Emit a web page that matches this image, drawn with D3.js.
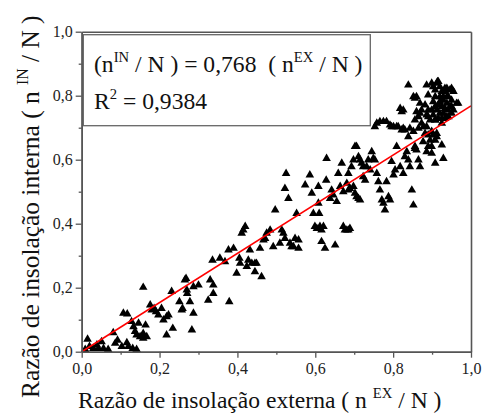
<!DOCTYPE html>
<html>
<head>
<meta charset="utf-8">
<script src="https://cdn.jsdelivr.net/npm/d3@7"></script>
</head>
<body style="margin:0;background:#fff">
<div id="chart"></div>
<script>
// measured points (external ratio, internal ratio)
const ratioExt = [
  0.015,0.020,0.030,0.043,0.051,0.056,0.068,0.081,0.086,0.092,0.103,0.116,0.120,0.131,0.141,0.009,0.039,
  0.107,0.117,0.128,0.133,0.137,0.141,0.146,0.150,0.158,0.164,0.167,0.158,0.158,0.176,0.180,0.186,0.191,
  0.197,0.205,0.210,0.218,0.223,0.231,0.234,0.218,0.251,0.257,0.259,0.265,0.268,0.270,0.271,0.278,0.283,
  0.287,0.287,0.300,0.325,0.330,0.338,0.338,0.336,0.355,0.368,0.377,0.379,0.390,0.398,0.405,0.407,0.411,
  0.415,0.420,0.424,0.428,0.432,0.437,0.445,0.449,0.445,0.462,0.458,0.467,0.471,0.475,0.484,0.492,0.497,
  0.509,0.514,0.518,0.522,0.525,0.522,0.531,0.535,0.539,0.544,0.548,0.552,0.557,0.557,0.574,0.586,0.591,
  0.595,0.599,0.604,0.608,0.610,0.612,0.616,0.616,0.621,0.625,0.608,0.628,0.629,0.638,0.642,0.646,0.651,
  0.655,0.659,0.664,0.668,0.672,0.681,0.685,0.689,0.693,0.672,0.676,0.681,0.685,0.689,0.685,0.698,0.702,
  0.706,0.711,0.715,0.698,0.702,0.706,0.711,0.715,0.719,0.723,0.723,0.728,0.732,0.736,0.741,0.745,0.749,
  0.753,0.758,0.762,0.766,0.771,0.775,0.779,0.783,0.788,0.792,0.796,0.801,0.805,0.796,0.753,0.758,0.766,
  0.775,0.783,0.792,0.801,0.813,0.822,0.830,0.809,0.818,0.826,0.830,0.835,0.839,0.843,0.848,0.852,0.843,
  0.852,0.856,0.860,0.865,0.869,0.818,0.826,0.839,0.852,0.856,0.860,0.865,0.869,0.873,0.873,0.878,0.882,
  0.886,0.886,0.890,0.895,0.899,0.903,0.908,0.912,0.916,0.920,0.925,0.929,0.933,0.938,0.942,0.946,0.950,
  0.903,0.908,0.912,0.916,0.920,0.925,0.929,0.933,0.938,0.942,0.946,0.950,0.955,0.903,0.908,0.916,0.925,
  0.933,0.942,0.899,0.903,0.912,0.925,0.929,0.908,0.908,0.895,0.890,0.886,0.967,0.950,0.920,0.929,0.938,
  0.886,0.899,0.914,0.933,0.955,0.963,0.950,0.925,0.908,0.890,0.882,0.899,0.920,0.938,0.908,0.890,0.925,
  0.869,0.860,0.822,0.856,0.865,0.890,0.912,0.899,0.877,0.856,0.839,0.826,0.809
];
const ratioInt = [
  0.039,0.016,0.010,0.010,0.031,0.010,0.007,0.059,0.026,0.036,0.016,0.028,0.016,0.010,0.007,0.007,0.021,
  0.120,0.118,0.094,0.078,0.063,0.052,0.089,0.047,0.042,0.083,0.047,0.057,0.201,0.146,0.130,0.135,0.125,
  0.115,0.135,0.099,0.109,0.115,0.188,0.073,0.052,0.156,0.130,0.135,0.224,0.229,0.193,0.182,0.156,0.068,
  0.120,0.203,0.208,0.161,0.224,0.208,0.182,0.286,0.292,0.281,0.318,0.156,0.323,0.245,0.292,0.276,0.370,
  0.380,0.391,0.266,0.286,0.318,0.276,0.276,0.276,0.250,0.234,0.323,0.349,0.354,0.370,0.380,0.328,0.443,
  0.339,0.380,0.370,0.354,0.557,0.510,0.479,0.339,0.328,0.328,0.354,0.432,0.323,0.349,0.521,0.552,0.495,
  0.432,0.391,0.385,0.464,0.432,0.391,0.380,0.344,0.391,0.323,0.516,0.536,0.604,0.479,0.505,0.490,0.333,
  0.469,0.557,0.516,0.589,0.500,0.526,0.557,0.510,0.578,0.391,0.380,0.380,0.380,0.385,0.505,0.516,0.495,
  0.484,0.479,0.474,0.599,0.641,0.641,0.609,0.599,0.589,0.578,0.547,0.536,0.578,0.599,0.568,0.625,0.604,
  0.599,0.557,0.531,0.505,0.474,0.464,0.443,0.531,0.484,0.474,0.594,0.552,0.568,0.703,0.703,0.714,0.719,
  0.719,0.719,0.708,0.703,0.703,0.693,0.693,0.641,0.578,0.557,0.609,0.625,0.599,0.578,0.505,0.458,0.698,
  0.688,0.641,0.630,0.599,0.578,0.760,0.755,0.833,0.797,0.792,0.750,0.734,0.745,0.755,0.714,0.703,0.682,
  0.625,0.703,0.641,0.661,0.620,0.828,0.818,0.839,0.844,0.828,0.813,0.797,0.813,0.823,0.797,0.818,0.786,
  0.781,0.766,0.755,0.771,0.781,0.766,0.745,0.760,0.776,0.755,0.766,0.745,0.755,0.740,0.724,0.729,0.729,
  0.729,0.734,0.688,0.677,0.682,0.646,0.604,0.589,0.661,0.724,0.755,0.740,0.776,0.823,0.797,0.786,0.797,
  0.833,0.839,0.844,0.823,0.813,0.776,0.766,0.787,0.797,0.802,0.771,0.755,0.745,0.734,0.724,0.734,0.714,
  0.776,0.797,0.750,0.724,0.698,0.677,0.672,0.641,0.656,0.635,0.672,0.698,0.703
];
const slope = 0.768;
const rSquared = "0,9384";
const majorTicks = [0, 0.2, 0.4, 0.6, 0.8, 1.0];
const minorTicks = [0.1, 0.3, 0.5, 0.7, 0.9];

const width = 482, height = 416;
const margin = { top: 31.7, right: 11, bottom: 64.3, left: 81.7 };
const serif = "'Liberation Serif'";
const comma = d => d3.format(".1f")(d).replace(".", ",");

const svg = d3.select("#chart")
  .append("svg")
  .attr("width", width)
  .attr("height", height);

const x = d3.scaleLinear().domain([0, 1]).range([margin.left, width - margin.right]);
const y = d3.scaleLinear().domain([0, 1]).range([height - margin.bottom, margin.top]);

// points
const points = ratioExt.map((d, i) => ({ ext: d, int: ratioInt[i] }));
const tri = d3.symbol().type(d3.symbolTriangle).size(32);

svg.selectAll(".pt")
  .data(points)
  .enter()
  .append("path")
  .attr("class", "pt")
  .attr("d", tri)
  .attr("transform", d => `translate(${x(d.ext)},${y(d.int)})`)
  .attr("fill", "#000");

// fitted line
svg.append("line")
  .attr("x1", x(0)).attr("y1", y(0))
  .attr("x2", x(1)).attr("y2", y(slope))
  .attr("stroke", "#f00")
  .attr("stroke-width", 1.6);

// axes
const styleAxis = g => {
  g.select(".domain").attr("stroke", "#555").attr("stroke-width", 1.6);
  g.selectAll(".tick line").attr("stroke", "#555").attr("stroke-width", 1.3);
  g.selectAll(".tick text")
    .style("font-family", serif)
    .style("font-size", "16px")
    .attr("fill", "#222");
};

svg.append("g")
  .attr("transform", `translate(0,${y(0)})`)
  .call(d3.axisBottom(x).tickValues(majorTicks).tickFormat(comma).tickSize(6).tickSizeOuter(0).tickPadding(5))
  .call(styleAxis);
svg.append("g")
  .attr("transform", `translate(0,${y(0)})`)
  .call(d3.axisBottom(x).tickValues(minorTicks).tickFormat("").tickSize(3).tickSizeOuter(0))
  .call(styleAxis);

svg.append("g")
  .attr("transform", `translate(${x(0)},0)`)
  .call(d3.axisLeft(y).tickValues(majorTicks).tickFormat(comma).tickSize(6).tickSizeOuter(0).tickPadding(3))
  .call(styleAxis);
svg.append("g")
  .attr("transform", `translate(${x(0)},0)`)
  .call(d3.axisLeft(y).tickValues(minorTicks).tickFormat("").tickSize(3).tickSizeOuter(0))
  .call(styleAxis);

// top and right frame
svg.append("g")
  .attr("transform", `translate(0,${y(1)})`)
  .call(d3.axisTop(x).tickValues([]).tickSizeOuter(0))
  .call(styleAxis);
svg.append("g")
  .attr("transform", `translate(${x(1)},0)`)
  .call(d3.axisRight(y).tickValues([]).tickSizeOuter(0))
  .call(styleAxis);

// helper for text with superscript
function supText(sel, parts, size) {
  sel.style("font-family", serif).style("font-size", size + "px").style("white-space", "pre");
  parts.forEach(p => {
    const t = sel.append("tspan").text(p.t).style("font-family", serif);
    if (p.sup) t.style("font-size", (size * 0.62) + "px").attr("dy", -size * 0.42);
    else if (p.after) t.style("font-size", size + "px").attr("dy", size * 0.42);
  });
}

// legend box
svg.append("rect")
  .attr("x", x(0) + 1.6).attr("y", y(1) + 3)
  .attr("width", 287).attr("height", 91)
  .attr("fill", "#fff")
  .attr("stroke", "#666")
  .attr("stroke-width", 1.3);

const l1 = svg.append("text")
  .attr("x", 94).attr("y", 72)
  .attr("fill", "#111");
supText(l1, [
  { t: "(n" }, { t: "IN", sup: true }, { t: " / N ) = 0,768  ( n", after: true },
  { t: "EX", sup: true }, { t: " / N )", after: true }
], 23.6);

const l2 = svg.append("text")
  .attr("x", 94).attr("y", 109)
  .attr("fill", "#111");
supText(l2, [{ t: "R" }, { t: "2", sup: true }, { t: " = " + rSquared, after: true }], 23.6);

// axis titles
const xt = svg.append("text")
  .attr("x", 78).attr("y", 408)
  .attr("fill", "#111");
supText(xt, [{ t: "Razão de insolação externa ( n " }, { t: "EX", sup: true }, { t: " / N )", after: true }], 23.6);

const yt = svg.append("text")
  .attr("transform", "translate(39,398) rotate(-90)")
  .attr("fill", "#111");
supText(yt, [{ t: "Razão de insolação interna ( n " }, { t: "IN", sup: true }, { t: " / N )", after: true }], 25.4);
</script>
</body>
</html>
